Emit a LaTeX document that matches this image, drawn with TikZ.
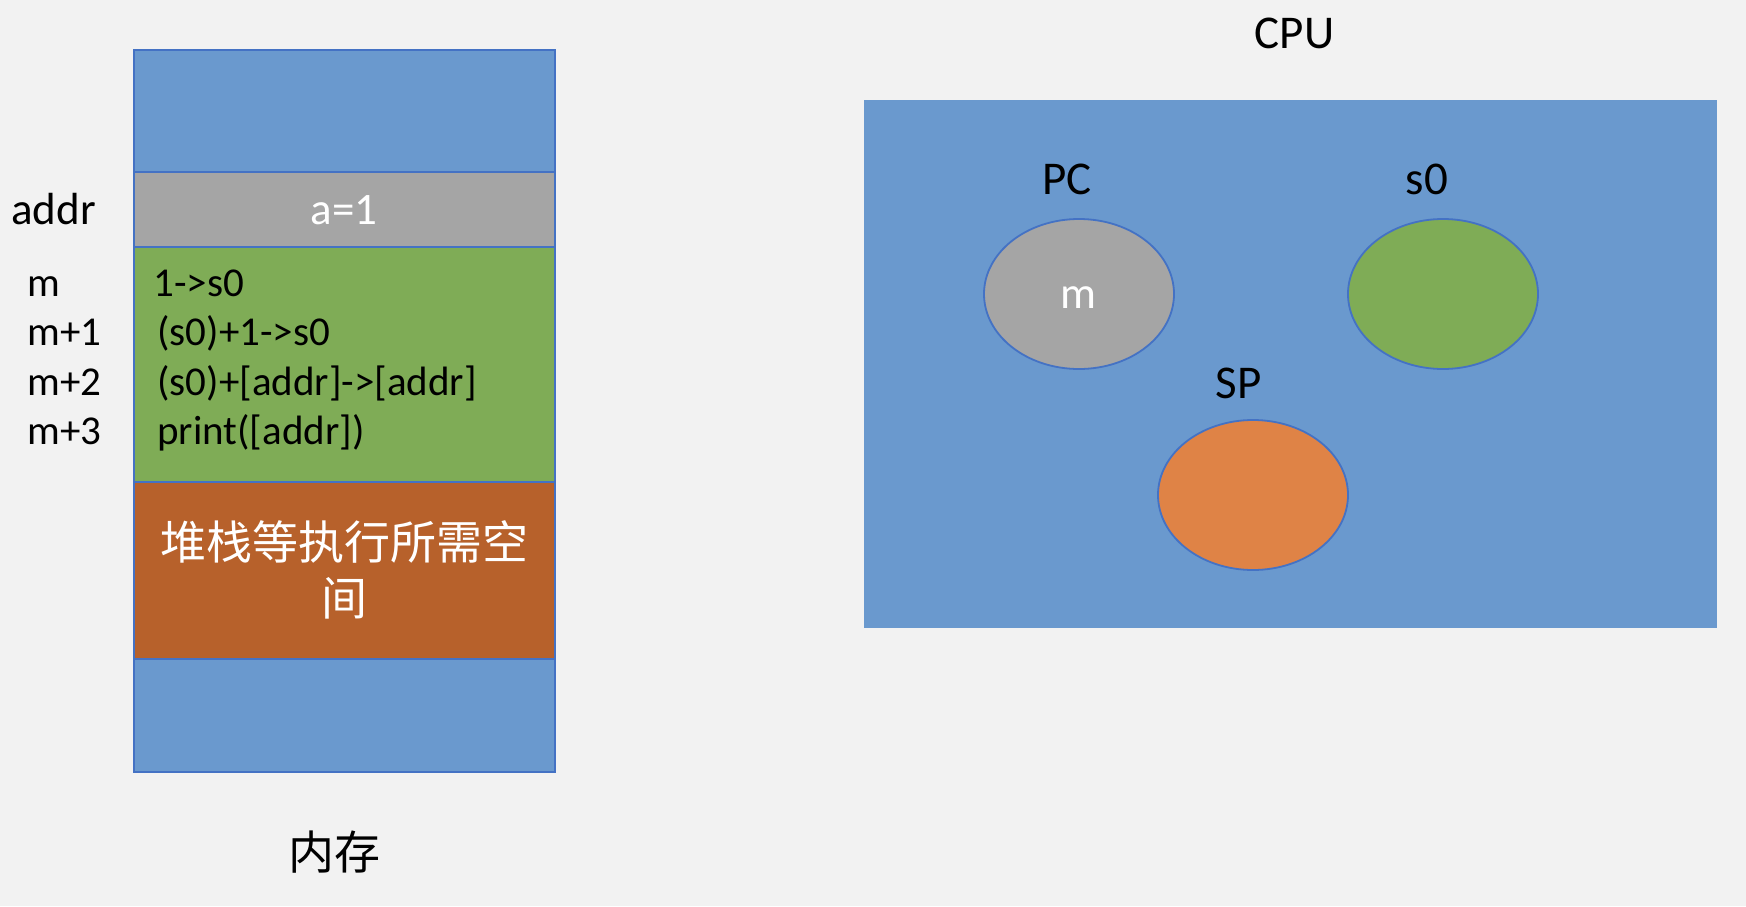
\documentclass[tikz,border=0pt]{standalone}
\usepackage{fontspec}
\setmainfont{Carlito}
\newfontfamily\cjk{Noto Sans CJK SC}
\usetikzlibrary{positioning,shapes.geometric}

\definecolor{bgcol}{RGB}{242,242,242}
\definecolor{memblue}{RGB}{106,153,206}
\definecolor{edgeblue}{RGB}{68,114,196}
\definecolor{cellgray}{RGB}{165,165,165}
\definecolor{codegreen}{RGB}{127,172,86}
\definecolor{stackbrown}{RGB}{183,97,43}
\definecolor{regorange}{RGB}{223,131,70}

\tikzset{
  memcell/.style={draw=edgeblue, line width=1pt, minimum width=210.5pt, outer sep=0pt},
  reg/.style={ellipse, draw=edgeblue, line width=0.9pt, minimum width=95pt, minimum height=75pt},
  txt/.style={font=\fontsize{20.5pt}{24pt}\selectfont},
  midtxt/.style={font=\fontsize{22.5pt}{26pt}\selectfont},
  bigtxt/.style={font=\fontsize{23.5pt}{28pt}\selectfont}
}

\begin{document}
\begin{tikzpicture}[x=0.5pt,y=-0.5pt]
\tikzstyle{every node}+=[inner sep=0pt]
\fill [bgcol] (0,0) rectangle (1746,906);
\useasboundingbox (0,0) rectangle (1746,906);
% memory
\node [memcell, fill=memblue, minimum height=60.75pt] (memtop) at (344.5,110.75) {};
\node [memcell, fill=cellgray, minimum height=37.5pt, below=0pt of memtop] (cella) {};
\node [memcell, fill=codegreen, minimum height=117.75pt, below=0pt of cella] (code) {};
\node [memcell, fill=stackbrown, minimum height=88.25pt, below=0pt of code, text=white, align=center,
  font=\cjk\fontsize{23pt}{28pt}\selectfont] (stack) {堆栈等执行所需空\\间};
\node [memcell, fill=memblue, minimum height=56.75pt, below=0pt of stack] (membot) {};
\node [midtxt, text=white, anchor=base] (aval) at (344,224) {a=1};
\node [font=\cjk\fontsize{23pt}{28pt}\selectfont] (memname) at (334,852) {内存};
% addresses
\node [midtxt, anchor=base west] (addr) at (11,224) {addr};
\node [txt, anchor=base west] (am) at (27,296.5) {m};
\node [txt, anchor=base west] (am1) at (27,345.5) {m+1};
\node [txt, anchor=base west] (am2) at (27,395) {m+2};
\node [txt, anchor=base west] (am3) at (27,444.5) {m+3};
% instructions
\node [txt, anchor=base west] (ins0) at (153,296.5) {1->s0};
\node [txt, anchor=base west] (ins1) at (157,345.5) {(s0)+1->s0};
\node [txt, anchor=base west] (ins2) at (157,395) {(s0)+[addr]->[addr]};
\node [txt, anchor=base west] (ins3) at (157,444.5) {print([addr])};
% cpu
\node [bigtxt, anchor=base] (cpuname) at (1294.5,48.3) {CPU};
\fill [memblue] (863.5,100) rectangle (1717,628);
\node [reg, fill=cellgray] (pc) at (1079,294) {};
\node [reg, fill=codegreen] (s0) at (1443,294) {};
\node [reg, fill=regorange] (sp) at (1253,495) {};
\node [midtxt, text=white, anchor=base] (pcval) at (1078.6,308) {m};
\node [bigtxt, anchor=base] (pcname) at (1067,194.3) {PC};
\node [bigtxt, anchor=base] (s0name) at (1427,194.3) {s0};
\node [bigtxt, anchor=base] (spname) at (1238.6,398) {SP};
\end{tikzpicture}
\end{document}
